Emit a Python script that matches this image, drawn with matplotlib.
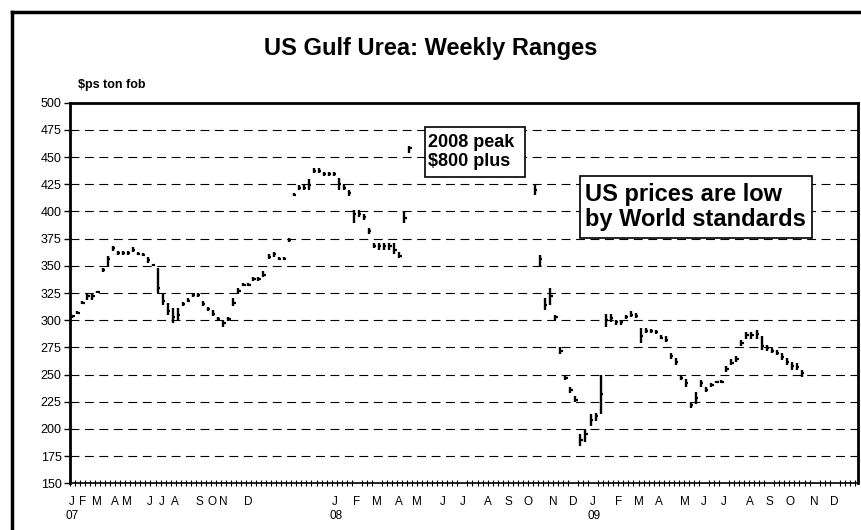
import numpy as np
import matplotlib
matplotlib.use("Agg")
import matplotlib.pyplot as plt
from matplotlib.lines import Line2D
from matplotlib.patches import Rectangle

plt.rcParams['font.family'] = ['Liberation Sans', 'DejaVu Sans']

# weekly ranges, week 0 = first week of Jan 2007; None = off the scale (2008 peak)
lows = [302, 306, 315, 319, 319, 325, 344, 349, 364, 360, 360, 360, 363, 360, 359, 353,
        350, 325, 314, 305, 297, 300, 313, 317, 321, 321, 313, 308, 304, 299, 294, 299,
        313, 324, 331, 331, 336, 336, 340, 356, 358, 355, 355, 372, 414, 420, 420, 420,
        435, 435, 433, 433, 433, 420, 420, 414, 389, 395, 392, 379, 366, 365, 365, 365,
        361, 357, 389, 454] + [None] * 24 + \
       [415, 349, 309, 314, 300, 269, 245, 233, 225, 184, 188, 203, 207, 214, 294, 298,
        296, 296, 301, 303, 302, 279, 288, 288, 287, 283, 280, 264, 259, 245, 239, 219,
        223, 239, 234, 239, 242, 242, 252, 259, 262, 276, 283, 283, 283, 273, 272, 270,
        268, 263, 259, 254, 254, 248]
highs = [305, 308, 318, 324, 324, 327, 348, 359, 368, 364, 364, 364, 367, 363, 362, 358,
         352, 348, 325, 316, 311, 311, 317, 320, 325, 325, 318, 312, 309, 303, 300, 303,
         320, 330, 334, 334, 340, 340, 345, 361, 363, 358, 358, 376, 417, 424, 424, 430,
         440, 440, 436, 436, 436, 431, 425, 420, 401, 401, 398, 385, 371, 371, 371, 371,
         371, 363, 400, 460] + [None] * 24 + \
        [425, 360, 320, 330, 305, 275, 250, 239, 230, 195, 200, 214, 215, 250, 306, 306,
         300, 300, 305, 308, 307, 293, 293, 292, 291, 286, 285, 270, 265, 250, 246, 225,
         234, 245, 239, 242, 244, 245, 258, 264, 267, 282, 289, 289, 291, 285, 277, 274,
         273, 270, 265, 262, 261, 254]
closes = [304, 307, 316, 322, 322, 326, 346, 356, 366, 362, 362, 362, 365, 361, 360, 355,
          351, 330, 318, 308, 303, 305, 315, 318, 323, 323, 315, 310, 306, 301, 297, 301,
          316, 327, 332, 332, 338, 338, 342, 358, 361, 356, 356, 374, 415, 422, 422, 424,
          437, 437, 434, 434, 434, 425, 422, 417, 398, 398, 395, 382, 368, 368, 368, 368,
          365, 359, 394, 458] + [None] * 24 + \
         [420, 356, 314, 322, 303, 272, 247, 236, 227, 190, 195, 208, 212, 232, 300, 302,
          298, 298, 303, 305, 304, 285, 290, 290, 289, 284, 282, 267, 262, 247, 242, 222,
          228, 242, 236, 240, 243, 243, 255, 261, 264, 279, 286, 286, 287, 276, 274, 272,
          270, 266, 262, 258, 257, 251]

month_labels = ['J', 'F', 'M', 'A', 'M', 'J', 'J', 'A', 'S', 'O', 'N', 'D'] * 3
year_labels = ['07', '08', '09']
# label positions (in weeks) as placed on the original axis
month_pos = [0.3, 2.6, 5.3, 8.9, 11.3, 15.9, 18.3, 20.9, 25.8, 28.2, 30.5, 35.4,
             52.7, 57.0, 61.0, 65.3, 68.9, 74.1, 78.0, 83.1, 87.1, 91.1, 96.1, 100.0,
             104.0, 109.1, 113.1, 117.1, 122.2, 126.0, 130.0, 135.1, 139.0, 143.1, 148.0, 152.0]

wk = np.arange(len(lows)) + 0.46
lo = np.array([np.nan if v is None else v for v in lows], dtype=float)
hi = np.array([np.nan if v is None else v for v in highs], dtype=float)
cl = np.array([np.nan if v is None else v for v in closes], dtype=float)
ok = ~np.isnan(lo)

fig = plt.figure(figsize=(8.61, 5.30), dpi=100)
ax = fig.add_axes([70 / 861, 1 - 483.3 / 530, 787.7 / 861, 380.6 / 530])

ax.set_xlim(0, 156.57)
ax.set_ylim(150, 500)

for y in range(175, 500, 25):
    ax.axhline(y, color='black', lw=0.8, ls=(0, (8, 5)), zorder=1)

ax.vlines(wk[ok], lo[ok], hi[ok], color='black', lw=1.7, zorder=3)
ax.hlines(cl[ok], wk[ok], wk[ok] + 0.45, color='black', lw=1.6, zorder=3)

ax.set_yticks(range(150, 501, 25))
ax.tick_params(axis='y', direction='out', length=4, width=1, labelsize=9, pad=2)
ax.set_xticks(month_pos)
ax.set_xticklabels(month_labels, fontsize=8.5)
ax.tick_params(axis='x', length=0, pad=9)
ax.set_xticks(np.arange(0, 157, 1.0), minor=True)
ax.tick_params(axis='x', which='minor', direction='inout', length=5, width=0.8)

for s in ['left', 'top', 'right']:
    ax.spines[s].set_linewidth(2)
ax.spines['bottom'].set_linewidth(1.2)

for i, yl in enumerate(year_labels):
    ax.text(month_pos[i * 12] + 0.2, -0.087, yl, transform=ax.get_xaxis_transform(),
            ha='center', va='center', fontsize=8.5)

# annotation boxes
ax.add_patch(Rectangle((0.451, 0.806), 0.126, 0.129, transform=ax.transAxes,
                       facecolor='white', edgecolor='black', lw=1.2, zorder=5))
ax.text(0.455, 0.871, '2008 peak\n$800 plus', transform=ax.transAxes, ha='left',
        va='center', fontsize=13, fontweight='bold', linespacing=1.15, zorder=6)

ax.add_patch(Rectangle((0.648, 0.644), 0.294, 0.164, transform=ax.transAxes,
                       facecolor='white', edgecolor='black', lw=1.2, zorder=5))
ax.text(0.654, 0.725, 'US prices are low\nby World standards', transform=ax.transAxes,
        ha='left', va='center', fontsize=17, fontweight='bold', linespacing=1.1, zorder=6)

fig.text(0.5, 1 - 48 / 530, 'US Gulf Urea: Weekly Ranges', ha='center', va='center',
         fontsize=17, fontweight='bold')
fig.text(78 / 861, 1 - 85 / 530, '$ps ton fob', ha='left', va='center',
         fontsize=9, fontweight='bold')

# outer frame of the chart
fig.add_artist(Line2D([12 / 861, 12 / 861], [0, 1 - 12 / 530], color='black', lw=2.5))
fig.add_artist(Line2D([12 / 861, 1], [1 - 12 / 530, 1 - 12 / 530], color='black', lw=2.5))

fig.savefig('out.png', dpi=100)
